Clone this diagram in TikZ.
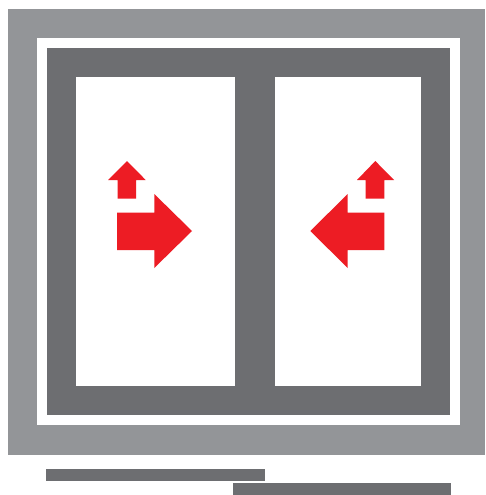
\documentclass[tikz,border=0pt]{standalone}
\definecolor{framegrey}{HTML}{939598}
\definecolor{sashgrey}{HTML}{6D6E71}
\definecolor{arrowred}{HTML}{ED1C24}
\tikzset{
  frameouter/.style={fill=framegrey,draw=none},
  gap/.style={fill=white,draw=none},
  sash/.style={fill=sashgrey,draw=none},
  redarrow/.style={fill=arrowred,draw=none}
}
\begin{document}
\begin{tikzpicture}[x=1pt,y=-1pt]
\useasboundingbox (0,0) rectangle (485,495);
\fill[white] (0,0) rectangle (485,495);
% frame
\path[frameouter] (8,9) rectangle (485,454.5);
\path[gap] (36.5,38) rectangle (460,425);
\path[sash] (46.5,48) rectangle (450,415);
% panes
\path[gap] (75.5,77) rectangle (234.5,386);
\path[gap] (274.5,77) rectangle (420.5,386);
% left arrows
\path[redarrow] (117,212.7) -- (154.3,212.7) -- (154.3,194) -- (192,231) -- (154.3,268) -- (154.3,250) -- (117,250) -- cycle;
\path[redarrow] (127,161) -- (145.7,180) -- (136,180) -- (136,198.7) -- (117.7,198.7) -- (117.7,180) -- (108,180) -- cycle;
% right arrows
\path[redarrow] (384.3,212.7) -- (347.7,212.7) -- (347.7,194) -- (310.3,231) -- (347.7,268) -- (347.7,250) -- (384.3,250) -- cycle;
\path[redarrow] (375.3,161) -- (394,180) -- (384.3,180) -- (384.3,198.7) -- (365.7,198.7) -- (365.7,180) -- (357,180) -- cycle;
% track bars
\path[sash] (46,469) rectangle (264.5,481);
\path[sash] (232.5,483) rectangle (450.5,495);
\end{tikzpicture}
\end{document}
